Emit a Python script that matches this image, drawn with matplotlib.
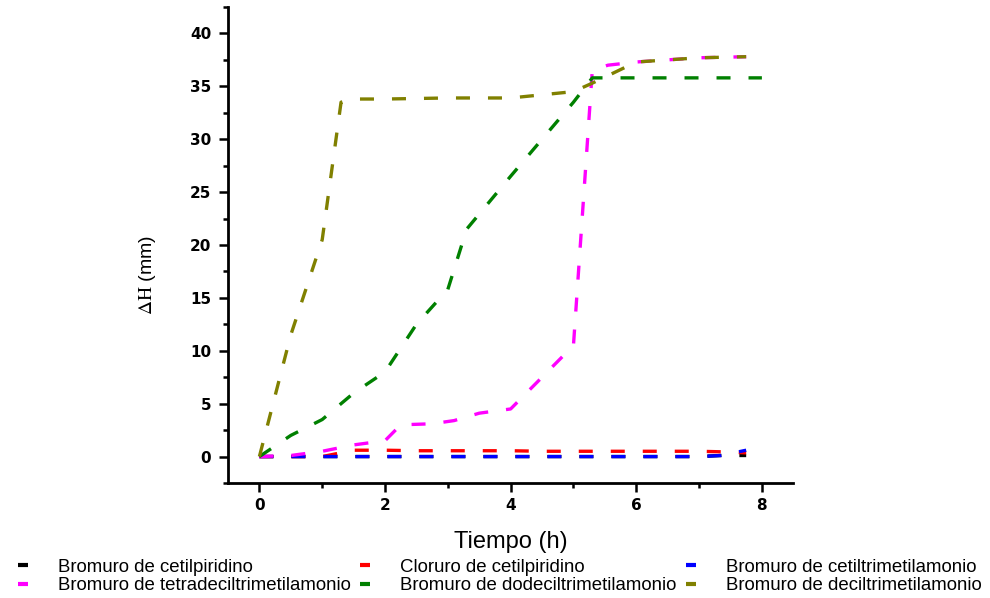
import matplotlib
matplotlib.use("Agg")
import matplotlib.pyplot as plt

# data (Tiempo in h, ΔH in mm)
t_cpb = [0, 0.5, 1, 1.5, 2, 2.5, 3, 3.5, 4, 4.5, 5, 5.5, 6, 6.5, 7, 7.35, 7.75]
h_cpb = [0, 0, 0, 0, 0, 0, 0, 0, 0, 0, 0, 0, 0, 0, 0, 0.1, 0.1]

t_cpc = [0, 0.5, 1, 1.5, 2, 2.5, 3, 3.5, 4, 4.5, 5, 5.5, 6, 6.5, 7, 7.35, 7.75]
h_cpc = [0, 0, 0, 0.6, 0.6, 0.55, 0.55, 0.55, 0.55, 0.5, 0.5, 0.5, 0.5, 0.5, 0.5, 0.45, 0.35]

t_ctab = [0, 0.5, 1, 1.5, 2, 2.5, 3, 3.5, 4, 4.5, 5, 5.5, 6, 6.5, 7, 7.35, 7.75]
h_ctab = [0, 0, 0, 0, 0, 0, 0, 0, 0, 0, 0, 0, 0, 0, 0, 0.1, 0.6]

t_ttab = [0, 0.5, 1, 1.5, 2, 2.25, 2.75, 3.1, 3.5, 4, 4.5, 5, 5.3, 5.55, 6, 7, 7.75]
h_ttab = [0, 0.1, 0.5, 1.1, 1.5, 3.0, 3.1, 3.4, 4.1, 4.5, 7.5, 10.5, 36.5, 37.0, 37.3, 37.7, 37.8]

t_dtab = [0, 0.5, 1, 1.5, 2, 2.5, 3, 3.3, 4, 5, 5.3, 6, 7, 8]
h_dtab = [0, 2.0, 3.5, 6.0, 8.0, 12.5, 15.8, 21.5, 26.5, 33.5, 35.8, 35.8, 35.8, 35.8]

t_detab = [0, 0.5, 1, 1.3, 1.5, 2, 3, 4, 5, 5.3, 6, 7, 7.75]
h_detab = [0, 11.5, 20.5, 33.5, 33.8, 33.8, 33.9, 33.9, 34.5, 35.3, 37.3, 37.7, 37.8]

series = [
    (t_cpb, h_cpb, "black", "Bromuro de cetilpiridino"),
    (t_cpc, h_cpc, "red", "Cloruro de cetilpiridino"),
    (t_ctab, h_ctab, "blue", "Bromuro de cetiltrimetilamonio"),
    (t_ttab, h_ttab, "magenta", "Bromuro de tetradeciltrimetilamonio"),
    (t_dtab, h_dtab, "green", "Bromuro de dodeciltrimetilamonio"),
    (t_detab, h_detab, "#808000", "Bromuro de deciltrimetilamonio"),
]

plt.rcParams["font.family"] = ["Liberation Sans", "DejaVu Sans"]
plt.rcParams["mathtext.fontset"] = "stix"

fig = plt.figure(figsize=(9.9, 5.98), dpi=100)
ax = fig.add_axes([0.2303, 0.1923, 0.571, 0.796])

lines = []
for t, h, c, lab in series:
    ln, = ax.plot(t, h, color=c, lw=2.4, dashes=(4.2, 5.4), dash_capstyle="butt", label=lab)
    lines.append(ln)

ax.set_xlim(-0.5, 8.5)
ax.set_ylim(-2.5, 42.5)
ax.set_xticks([0, 2, 4, 6, 8])
ax.set_yticks([0, 5, 10, 15, 20, 25, 30, 35, 40])
ax.set_xticks([1, 3, 5, 7], minor=True)
ax.set_yticks([-2.5 + 5 * i for i in range(10)], minor=True)

ax.spines["right"].set_visible(False)
ax.spines["top"].set_visible(False)
for s in ["left", "bottom"]:
    ax.spines[s].set_linewidth(2.0)
ax.tick_params(which="major", direction="out", length=6.5, width=1.8)
ax.tick_params(which="minor", direction="out", length=3.5, width=1.8)
ax.tick_params(axis="y", which="major", pad=5.5)
ax.tick_params(axis="x", which="major", pad=4)
for lab in ax.get_xticklabels() + ax.get_yticklabels():
    lab.set_fontweight("bold")
    lab.set_family("DejaVu Sans")
    lab.set_fontsize(11)

ax.set_xlabel("Tiempo (h)", fontsize=17)
ax.xaxis.set_label_coords(0.5, -0.10)
ax.set_ylabel(r"$\Delta\mathrm{H}$ (mm)", fontsize=14)
ax.yaxis.set_label_coords(-0.124, 0.437)

order = [0, 3, 1, 4, 2, 5]
leg = fig.legend([lines[i] for i in order], [series[i][3] for i in order],
                 loc="upper left", bbox_to_anchor=(0.018, 0.066), ncol=3, frameon=False,
                 handlelength=0.55, handletextpad=1.6, columnspacing=0.5,
                 labelspacing=0.1, borderpad=0.0, borderaxespad=0.0,
                 prop={"size": 13.4})
for h in leg.legend_handles:
    h.set_linestyle("-")
    h.set_linewidth(3)
    h.set_solid_capstyle("butt")

fig.savefig("out.png", dpi=100)
